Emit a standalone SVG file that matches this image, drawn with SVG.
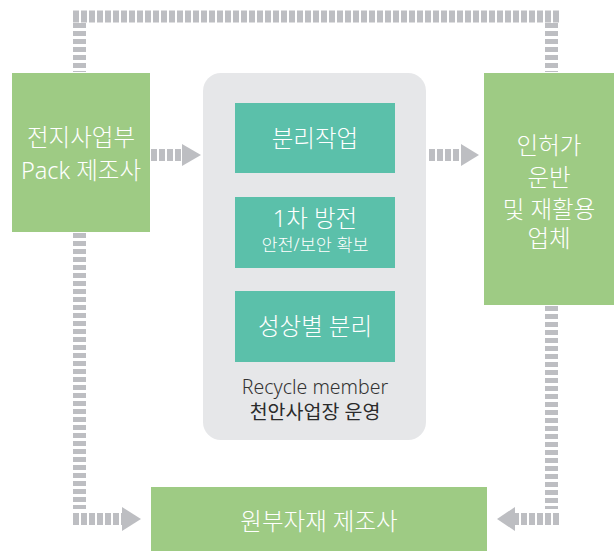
<svg xmlns="http://www.w3.org/2000/svg" width="614" height="551" viewBox="0 0 614 551">
<style>
.green{fill:#9ecb84}
.teal{fill:#5bc0aa}
.panel{fill:#e6e7e9}
.wt{fill:#ffffff;font-family:"Noto Sans","Noto Sans CJK KR",sans-serif;font-weight:300;text-anchor:middle;font-size:23.5px}
.sm{font-size:17.5px}
.dk{fill:#333333;font-family:"Noto Sans","Noto Sans CJK KR",sans-serif;font-weight:300;text-anchor:middle;font-size:19.5px}
.dk2{font-weight:400;fill:#2b2b2b}
.h{fill:none;stroke:#bdbec2;stroke-width:12;stroke-dasharray:6 2}
.v{fill:none;stroke:#bdbec2;stroke-width:13;stroke-dasharray:5 3}
.head{fill:#bdbec2}
</style>
<rect width="614" height="551" fill="#ffffff"/>
<g id="connectors">
  <path class="h" d="M73 16.5 H559"/>
  <path class="v" d="M79.5 23 V72"/>
  <path class="v" d="M551.5 23 V72"/>
  <path class="h" d="M151 155 H182"/>
  <polygon class="head" points="182,144 201,155 182,166"/>
  <path class="h" d="M429 155 H461"/>
  <polygon class="head" points="461,144 479,155 461,166"/>
  <path class="v" d="M79.5 233 V509"/>
  <path class="h" d="M73 519 H122"/>
  <polygon class="head" points="122,507 141,519 122,531"/>
  <path class="v" d="M551.5 306 V509"/>
  <path class="h" d="M559 519 H515"/>
  <polygon class="head" points="515,507 497,519 515,531"/>
</g>
<g id="node-pack">
  <rect class="green" x="12" y="73" width="138" height="159"/>
  <text class="wt" x="81" y="146">전지사업부</text>
  <text class="wt" x="81" y="179">Pack 제조사</text>
</g>
<g id="node-center">
  <rect class="panel" x="203" y="73" width="223" height="367" rx="18"/>
  <text class="dk" x="315" y="394">Recycle member</text>
  <text class="dk dk2" x="315" y="419">천안사업장 운영</text>
</g>
<g id="node-step1">
  <rect class="teal" x="235" y="103" width="160" height="70"/>
  <text class="wt" x="315" y="147">분리작업</text>
</g>
<g id="node-step2">
  <rect class="teal" x="235" y="197" width="160" height="71"/>
  <text class="wt" x="315" y="227">1차 방전</text>
  <text class="wt sm" x="315" y="251">안전/보안 확보</text>
</g>
<g id="node-step3">
  <rect class="teal" x="235" y="291" width="160" height="71"/>
  <text class="wt" x="315" y="335">성상별 분리</text>
</g>
<g id="node-recycler">
  <rect class="green" x="484" y="73" width="130" height="232"/>
  <text class="wt" x="549" y="154">인허가</text>
  <text class="wt" x="549" y="186">운반</text>
  <text class="wt" x="549" y="218">및 재활용</text>
  <text class="wt" x="549" y="247">업체</text>
</g>
<g id="node-material">
  <rect class="green" x="151" y="487" width="336" height="64"/>
  <text class="wt" x="319" y="530">원부자재 제조사</text>
</g>
</svg>
